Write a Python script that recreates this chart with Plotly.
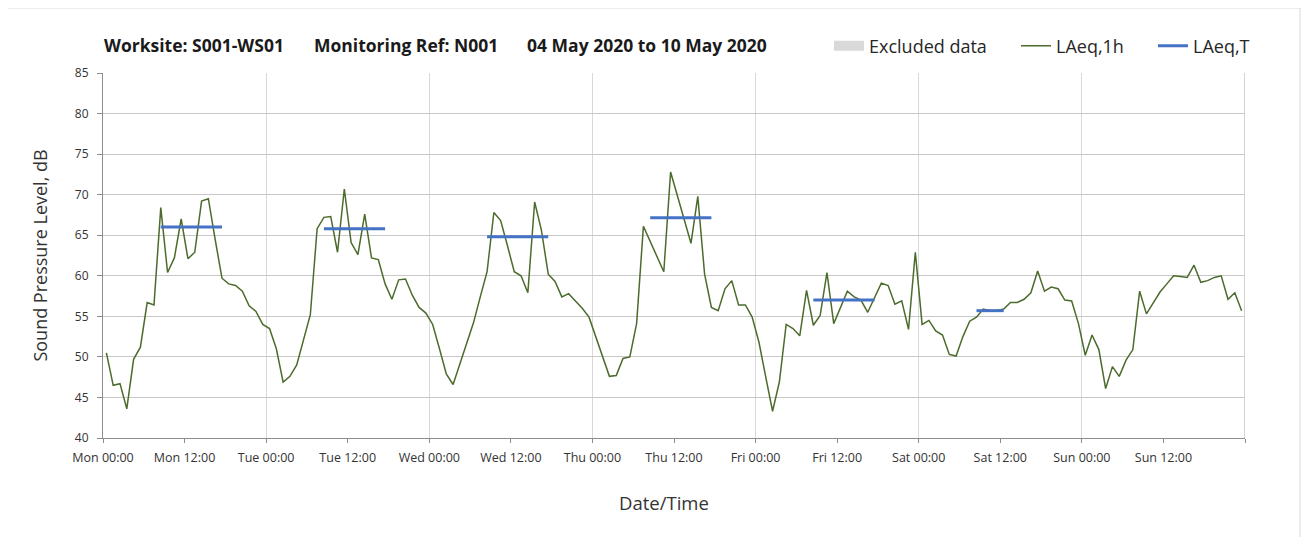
import plotly.graph_objects as go

# ---- data -------------------------------------------------------------
day_names = ["Mon", "Tue", "Wed", "Thu", "Fri", "Sat", "Sun"]

# hourly LAeq,1h values (one per hour, Mon 00:00 .. Sun 23:00)
mon = [50.5, 46.5, 46.7, 43.6, 49.7, 51.2, 56.7, 56.4, 68.4, 60.4, 62.2, 67.0,
       62.1, 62.9, 69.2, 69.5, 64.5, 59.7, 59.0, 58.8, 58.1, 56.3, 55.6, 54.0]
tue = [53.5, 51.0, 46.9, 47.6, 49.0, 52.0, 55.2, 65.8, 67.2, 67.3, 62.9, 70.7,
       64.1, 62.6, 67.6, 62.2, 62.0, 59.0, 57.1, 59.5, 59.6, 57.6, 56.1, 55.4]
wed = [54.0, 51.0, 47.9, 46.6, 49.2, 51.7, 54.2, 57.4, 60.5, 67.8, 66.8, 63.7,
       60.5, 60.0, 57.9, 69.1, 65.6, 60.2, 59.3, 57.4, 57.8, 56.9, 56.0, 54.9]
thu = [52.4, 50.0, 47.6, 47.7, 49.8, 50.0, 54.1, 66.1, 64.3, 62.4, 60.5, 72.8,
       69.9, 67.0, 64.0, 69.8, 60.2, 56.1, 55.7, 58.4, 59.4, 56.4, 56.4, 54.9]
fri = [51.8, 47.5, 43.3, 46.9, 54.0, 53.5, 52.6, 58.2, 53.9, 55.1, 60.4, 54.1,
       56.2, 58.1, 57.4, 57.0, 55.5, 57.4, 59.1, 58.8, 56.5, 56.9, 53.4, 62.9]
sat = [54.0, 54.5, 53.2, 52.7, 50.3, 50.1, 52.5, 54.4, 54.9, 55.9, 55.7, 55.7,
       55.9, 56.7, 56.7, 57.1, 57.9, 60.6, 58.1, 58.6, 58.4, 57.0, 56.9, 54.1]
sun = [50.2, 52.7, 50.9, 46.1, 48.8, 47.6, 49.6, 50.9, 58.1, 55.3, 56.6, 58.0,
       59.0, 60.0, 59.9, 59.8, 61.3, 59.2, 59.4, 59.8, 60.0, 57.1, 57.9, 55.7]

# LAeq,T period levels (start / end hour from Monday 00:00)
period_start_h = [8, 32, 56, 80, 104, 128]
period_end_h = [18, 42, 66, 90, 114, 133]
period_level = [66.0, 65.8, 64.8, 67.15, 57.0, 55.7]

tick_hours = list(range(0, 169, 12))
tick_labels = [f"{day_names[h // 24]} {h % 24:02d}:00" if h < 168 else "" for h in tick_hours]
day_bounds = list(range(24, 169, 24))

title_parts = ["Worksite: S001-WS01", "Monitoring Ref: N001", "04 May 2020 to 10 May 2020"]
x_title = "Date/Time"
y_title = "Sound Pressure Level, dB"

# ---- build ------------------------------------------------------------
hourly = mon + tue + wed + thu + fri + sat + sun
hours = [i + 0.5 for i in range(len(hourly))]

GREEN = "#4c6b2c"
BLUE = "#4472c4"
FONT = "Open Sans"

fig = go.Figure()

fig.add_trace(go.Scatter(
    x=[None], y=[None], mode="lines",
    line=dict(color="#d9d9d9", width=10),
    name="Excluded data", showlegend=True, legend="legend"))

fig.add_trace(go.Scatter(
    x=hours, y=hourly, mode="lines", name="LAeq,1h",
    line=dict(color=GREEN, width=1.5), legend="legend2"))

px, py = [], []
for s, e, v in zip(period_start_h, period_end_h, period_level):
    px += [s + 0.5, e - 0.5, None]
    py += [v, v, None]
fig.add_trace(go.Scatter(
    x=px, y=py, mode="lines", name="LAeq,T",
    line=dict(color=BLUE, width=3), legend="legend3"))

W, H = 1301, 529
L, R, T, B = 95, 64, 65, 99
pw, ph = W - L - R, H - T - B


def pxx(x):  # page pixel (reference coords, body margin 8) -> paper x
    return (x - 8 - L) / pw


def pxy(y):
    return (T + ph - (y - 8)) / ph


leg_common = dict(orientation="h", yanchor="middle", xanchor="left",
                  font=dict(size=18, color="#262626", family=FONT),
                  itemwidth=30, bgcolor="rgba(0,0,0,0)", borderwidth=0)

title_x = [102, 312, 525]
annotations = [dict(
    text="<b>" + t + "</b>", xref="paper", yref="paper",
    x=pxx(xp), y=pxy(45), xanchor="left", yanchor="middle", showarrow=False,
    font=dict(size=17.5, color="#1a1a1a", family=FONT))
    for t, xp in zip(title_parts, title_x)]
annotations.append(dict(
    text=x_title, xref="paper", yref="paper", x=pxx(664), y=pxy(502),
    xanchor="center", yanchor="middle", showarrow=False,
    font=dict(size=18.5, color="#333333", family=FONT)))

fig.update_layout(
    width=W, height=H,
    margin=dict(l=L, r=R, t=T, b=B),
    paper_bgcolor="white", plot_bgcolor="white",
    font=dict(family=FONT, color="#404040"),
    showlegend=True,
    legend=dict(x=pxx(829), y=pxy(46), **leg_common),
    legend2=dict(x=pxx(1016), y=pxy(46), **leg_common),
    legend3=dict(x=pxx(1153), y=pxy(46), **leg_common),
    xaxis=dict(
        range=[0, 168], tickmode="array", tickvals=tick_hours, ticktext=tick_labels,
        showgrid=False, showline=True, linecolor="#8c8c8c", linewidth=1,
        ticks="outside", ticklen=4, tickcolor="#8c8c8c", zeroline=False,
        tickfont=dict(size=12.5, color="#333333"), ticklabelstandoff=4,
        minor=dict(tickmode="array", tickvals=day_bounds, showgrid=True,
                   gridcolor="#d9d9d9", gridwidth=1.3, ticks=""),
    ),
    yaxis=dict(
        range=[40, 85], dtick=5, tick0=40, showgrid=True, gridcolor="#c8c8c8", gridwidth=1.3,
        showline=True, linecolor="#8c8c8c", linewidth=1, zeroline=False,
        ticks="outside", ticklen=5, tickcolor="#8c8c8c",
        tickfont=dict(size=12, color="#333333"), ticklabelstandoff=6,
        title=dict(text=y_title, font=dict(size=18, color="#333333"), standoff=22),
    ),
    annotations=annotations,
    shapes=[
        dict(type="rect", xref="paper", yref="paper",
             x0=pxx(4), x1=pxx(1300), y0=pxy(560), y1=pxy(8),
             line=dict(color="#d9d9d9", width=1), fillcolor="rgba(0,0,0,0)",
             layer="below"),
        dict(type="line", xref="x", yref="paper",
             x0=day_bounds[-1], x1=day_bounds[-1], y0=0, y1=1,
             line=dict(color="#a6a6a6", width=1), layer="below"),
    ],
)

fig.write_html("out.html")
